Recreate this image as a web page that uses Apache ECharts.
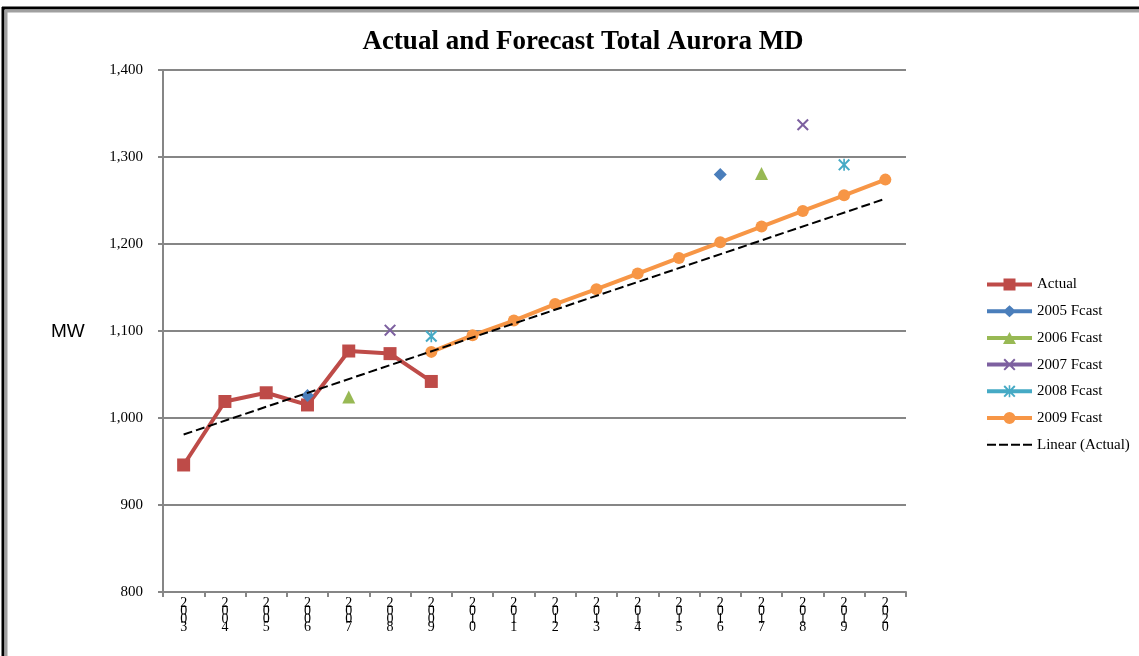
<!DOCTYPE html>
<html>
<head>
<meta charset="utf-8">
<script src="https://cdn.jsdelivr.net/npm/echarts@6/dist/echarts.min.js"></script>
<style>
html,body{margin:0;padding:0;background:#fff;}
#chart{width:1139px;height:656px;}
</style>
</head>
<body>
<div id="chart"></div>
<script>
var years = ['2003','2004','2005','2006','2007','2008','2009','2010','2011','2012','2013','2014','2015','2016','2017','2018','2019','2020'];
var actual = [946, 1019, 1029, 1015, 1077, 1074, 1042, null, null, null, null, null, null, null, null, null, null, null];
var fcast2005 = [null, null, null, 1026, null, null, null, null, null, null, null, null, null, 1280, null, null, null, null];
var fcast2006 = [null, null, null, null, 1024, null, null, null, null, null, null, null, null, null, 1281, null, null, null];
var fcast2007 = [null, null, null, null, null, 1101, null, null, null, null, null, null, null, null, null, 1337, null, null];
var fcast2008 = [null, null, null, null, null, null, 1094, null, null, null, null, null, null, null, null, null, 1291, null];
var fcast2009 = [null, null, null, null, null, null, 1076, 1095, 1112, 1131, 1148, 1166, 1184, 1202, 1220, 1238, 1256, 1274];
var trendActual = [981, null, null, null, null, null, null, null, null, null, null, null, null, null, null, null, null, 1252];
var yTicks = {min: 800, max: 1400, interval: 100};
var seriesNames = ['Actual', '2005 Fcast', '2006 Fcast', '2007 Fcast', '2008 Fcast', '2009 Fcast', 'Linear (Actual)'];

var serif = 'Liberation Serif';
var crossPath = 'path://M0,1.2 L1.2,0 L5,3.8 L8.8,0 L10,1.2 L6.2,5 L10,8.8 L8.8,10 L5,6.2 L1.2,10 L0,8.8 L3.8,5 Z';
var starPath = 'path://M0,1.2 L1.2,0 L5,3.8 L8.8,0 L10,1.2 L6.2,5 L10,8.8 L8.8,10 L5,6.2 L1.2,10 L0,8.8 L3.8,5 Z M4.3,0 L5.7,0 L5.7,10 L4.3,10 Z';

// legend icons: 45x12 boxes, a thick line with the marker in the middle
var bar = 'M0,4 L45,4 L45,8 L0,8 Z ';
var legendIcons = [
  'path://' + bar + 'M16.5,0 L28.5,0 L28.5,12 L16.5,12 Z',
  'path://' + bar + 'M22.5,0 L29,6 L22.5,12 L16,6 Z',
  'path://' + bar + 'M22.5,0 L29,12 L16,12 Z',
  'path://' + bar + 'M16.5,1.4 L17.9,0 L22.5,4.6 L27.1,0 L28.5,1.4 L23.9,6 L28.5,10.6 L27.1,12 L22.5,7.4 L17.9,12 L16.5,10.6 L21.1,6 Z',
  'path://' + bar + 'M16.5,1.4 L17.9,0 L22.5,4.6 L27.1,0 L28.5,1.4 L23.9,6 L28.5,10.6 L27.1,12 L22.5,7.4 L17.9,12 L16.5,10.6 L21.1,6 Z M21.7,0 L23.3,0 L23.3,12 L21.7,12 Z',
  'path://' + bar + 'M16.5,6 A6,6 0 1 1 28.5,6 A6,6 0 1 1 16.5,6 Z',
  'path://M0,5 L9,5 L9,7 L0,7 Z M12,5 L21,5 L21,7 L12,7 Z M24,5 L33,5 L33,7 L24,7 Z M36,5 L45,5 L45,7 L36,7 Z M0,0 L0.01,0 L0.01,12 L0,12 Z M44.99,0 L45,0 L45,12 L44.99,12 Z'
];

function mk(name, data, color, symbol, size) {
  return {
    name: name, type: 'line', data: data,
    symbol: symbol, symbolSize: size,
    connectNulls: false,
    lineStyle: {color: color, width: 4},
    itemStyle: {color: color},
    emphasis: {disabled: true},
    z: 3
  };
}

var chart = echarts.init(document.getElementById('chart'), null, {renderer: 'canvas'});
chart.setOption({
  animation: false,
  backgroundColor: '#ffffff',
  title: {
    text: 'Actual and Forecast Total Aurora MD',
    left: 578, top: 24, textAlign: 'center',
    textStyle: {fontFamily: serif, fontWeight: 'bold', fontSize: 27, color: '#000'}
  },
  grid: {left: 163, right: 233, top: 70, bottom: 64},
  legend: {
    orient: 'vertical', left: 987, top: 277, padding: 0,
    itemWidth: 45, itemHeight: 12, itemGap: 11.7,
    data: seriesNames.map(function (n, i) { return {name: n, icon: legendIcons[i]}; }),
    textStyle: {fontFamily: serif, fontSize: 15, color: '#000'}
  },
  xAxis: {
    type: 'category', data: years, boundaryGap: true,
    axisLine: {lineStyle: {color: '#868686', width: 2}},
    axisTick: {show: true, length: 5, alignWithLabel: false, lineStyle: {color: '#868686', width: 2}},
    axisLabel: {
      interval: 0, margin: 7, fontFamily: serif, fontSize: 14, color: '#000', lineHeight: 8,
      formatter: function (v) { return v.split('').join('\n'); }
    },
    splitLine: {show: false}
  },
  yAxis: {
    type: 'value', min: yTicks.min, max: yTicks.max, interval: yTicks.interval,
    axisLine: {show: true, lineStyle: {color: '#868686', width: 2}},
    axisTick: {show: true, length: 5, inside: false, lineStyle: {color: '#868686', width: 2}},
    axisLabel: {
      margin: 20, fontFamily: serif, fontSize: 15, color: '#000',
      formatter: function (v) { return v.toLocaleString('en-US'); }
    },
    splitLine: {show: true, lineStyle: {color: '#868686', width: 2}}
  },
  graphic: [
    {type: 'text', left: 51, top: 322, style: {text: 'MW', fontFamily: 'Liberation Sans', fontSize: 19, fill: '#000'}},
    {type: 'line', shape: {x1: 2, y1: 8, x2: 1139, y2: 8}, style: {stroke: '#000', lineWidth: 3}},
    {type: 'line', shape: {x1: 3, y1: 7, x2: 3, y2: 656}, style: {stroke: '#000', lineWidth: 3}},
    {type: 'line', shape: {x1: 5, y1: 11, x2: 1139, y2: 11}, style: {stroke: '#a0a0a0', lineWidth: 3}},
    {type: 'line', shape: {x1: 6, y1: 10, x2: 6, y2: 656}, style: {stroke: '#a0a0a0', lineWidth: 3}}
  ],
  series: [
    mk(seriesNames[0], actual, '#BE4B48', 'rect', 13),
    mk(seriesNames[1], fcast2005, '#4A7EBB', 'diamond', 13),
    mk(seriesNames[2], fcast2006, '#98B954', 'triangle', 13),
    mk(seriesNames[3], fcast2007, '#7D60A0', crossPath, 12),
    mk(seriesNames[4], fcast2008, '#46AAC5', starPath, 12),
    mk(seriesNames[5], fcast2009, '#F79646', 'circle', 12),
    {
      name: seriesNames[6], type: 'line', data: trendActual, connectNulls: true,
      symbol: 'none', showSymbol: false,
      lineStyle: {color: '#000', width: 2, type: [9, 4]},
      itemStyle: {color: '#000'},
      emphasis: {disabled: true},
      z: 5
    }
  ]
});
</script>
</body>
</html>
